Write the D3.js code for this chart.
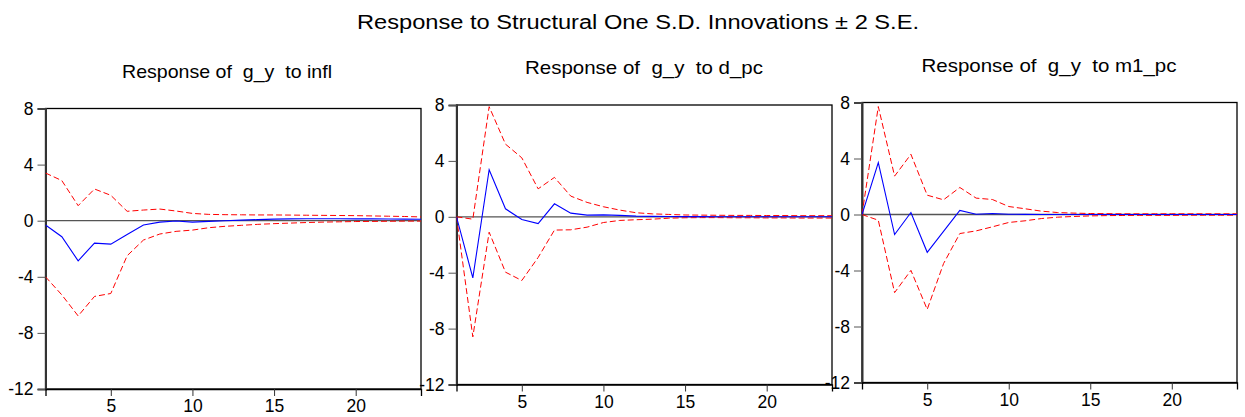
<!DOCTYPE html>
<html>
<head>
<meta charset="utf-8">
<script src="https://cdn.jsdelivr.net/npm/d3@7"></script>
<style>
  html, body { margin: 0; padding: 0; background: #fff; }
  svg { display: block; }
  text { font-family: "Liberation Sans", Arial, sans-serif; fill: #000; }
</style>
</head>
<body>
<svg id="chart" width="1245" height="417"></svg>
<script>
// ---- data ----
const periods = [1,2,3,4,5,6,7,8,9,10,11,12,13,14,15,16,17,18,19,20,21,22,23,24];
const yTicks = [-12, -8, -4, 0, 4, 8];
const xTicks = [5, 10, 15, 20];
const mainTitle = "Response to Structural One S.D. Innovations \u00B1 2 S.E.";
const panelTitles = ["Response of  g_y  to infl", "Response of  g_y  to d_pc", "Response of  g_y  to m1_pc"];

const inflResp  = [-0.31,-1.14,-2.86,-1.6,-1.67,-0.98,-0.31,-0.1,-0.02,-0.1,-0.05,0,0.04,0.08,0.11,0.13,0.14,0.14,0.14,0.13,0.13,0.12,0.11,0.1];
const inflUpper = [3.4,2.86,1.07,2.26,1.81,0.67,0.76,0.83,0.69,0.52,0.45,0.43,0.42,0.41,0.41,0.4,0.39,0.38,0.37,0.36,0.34,0.32,0.3,0.27];
const inflLower = [-4.0,-5.29,-6.79,-5.4,-5.19,-2.5,-1.38,-0.95,-0.76,-0.67,-0.5,-0.4,-0.33,-0.26,-0.21,-0.17,-0.13,-0.1,-0.08,-0.06,-0.05,-0.04,-0.03,-0.03];

const dpcResp  = [0,-4.37,3.37,0.57,-0.19,-0.48,0.93,0.26,0.12,0.14,0.1,0.05,0.03,0.02,0.01,0.01,0,0,0,0,0,0,0,0];
const dpcUpper = [0,-0.17,7.88,5.2,4.22,2.0,2.82,1.48,1.03,0.72,0.48,0.29,0.21,0.17,0.13,0.12,0.11,0.1,0.1,0.09,0.09,0.08,0.08,0.08];
const dpcLower = [0,-8.59,-1.1,-3.96,-4.56,-2.91,-0.95,-0.93,-0.74,-0.41,-0.26,-0.21,-0.17,-0.1,-0.07,-0.06,-0.06,-0.07,-0.07,-0.08,-0.08,-0.09,-0.09,-0.09];

const m1Resp  = [0,3.7,-1.43,0.14,-2.7,-1.2,0.29,0.02,0.07,0.02,0.01,0,0,0,0,0,0,0,0,0,0,0,0,0];
const m1Upper = [0,7.71,2.74,4.3,1.38,1.05,1.93,1.17,1.07,0.57,0.41,0.24,0.14,0.1,0.07,0.06,0.05,0.05,0.05,0.05,0.05,0.05,0.05,0.05];
const m1Lower = [0,-0.41,-5.58,-3.99,-6.78,-3.51,-1.36,-1.17,-0.88,-0.57,-0.45,-0.29,-0.19,-0.14,-0.1,-0.08,-0.07,-0.06,-0.06,-0.06,-0.05,-0.05,-0.05,-0.05];

// ---- layout ----
const panels = [
  { title: panelTitles[0], resp: inflResp, upper: inflUpper, lower: inflLower,
    left: 45.5, right: 421, top: 108.5, bottom: 389, titleX: 227, titleY: 78, titleW: 210 },
  { title: panelTitles[1], resp: dpcResp, upper: dpcUpper, lower: dpcLower,
    left: 456.5, right: 832, top: 105, bottom: 384.5, titleX: 644, titleY: 74, titleW: 238 },
  { title: panelTitles[2], resp: m1Resp, upper: m1Upper, lower: m1Lower,
    left: 862, right: 1237, top: 102.5, bottom: 382.5, titleX: 1049, titleY: 72, titleW: 255 }
];

const svg = d3.select("#chart");

svg.append("text")
  .attr("x", 638).attr("y", 28.5)
  .attr("text-anchor", "middle")
  .attr("font-size", 19.5)
  .attr("textLength", 562).attr("lengthAdjust", "spacingAndGlyphs")
  .text(mainTitle);

const fmt = d => String(d); // plain hyphen-minus as in the reference

panels.forEach((p, i) => {
  const x = d3.scaleLinear().domain([1, 24]).range([p.left, p.right]);
  const y = d3.scaleLinear().domain([-12, 8]).range([p.bottom, p.top]);
  const g = svg.append("g");

  g.append("text")
    .attr("x", p.titleX).attr("y", p.titleY)
    .attr("text-anchor", "middle")
    .attr("font-size", 19)
    .attr("xml:space", "preserve")
    .style("white-space", "pre")
    .attr("textLength", p.titleW).attr("lengthAdjust", "spacingAndGlyphs")
    .text(p.title);

  const clipId = "clip" + i;
  svg.append("clipPath").attr("id", clipId)
    .append("rect").attr("x", p.left).attr("y", p.top)
    .attr("width", p.right - p.left).attr("height", p.bottom - p.top);

  // frame
  g.append("rect")
    .attr("x", p.left).attr("y", p.top)
    .attr("width", p.right - p.left).attr("height", p.bottom - p.top)
    .attr("fill", "#fff").attr("stroke", "#000").attr("stroke-width", 1.3);

  // zero line
  g.append("line")
    .attr("x1", p.left).attr("x2", p.right)
    .attr("y1", y(0)).attr("y2", y(0))
    .attr("stroke", "#555").attr("stroke-width", 1.3);

  // axes
  const yAxis = d3.axisLeft(y).tickValues(yTicks).tickSize(8).tickPadding(4).tickFormat(fmt);
  const ya = g.append("g").attr("transform", `translate(${p.left},0)`).call(yAxis);
  ya.select(".domain").attr("stroke", "#333").attr("stroke-width", 2);
  ya.selectAll(".tick line").attr("stroke", "#555");
  ya.selectAll(".tick text").attr("font-size", 17.5).attr("font-family", "Liberation Sans, Arial, sans-serif").attr("fill", "#000");

  const xAxis = d3.axisBottom(x).tickValues(xTicks).tickSize(7).tickPadding(4).tickFormat(fmt);
  const xa = g.append("g").attr("transform", `translate(0,${p.bottom})`).call(xAxis);
  xa.select(".domain").attr("stroke", "#000").attr("stroke-width", 1.3);
  xa.selectAll(".tick line").attr("stroke", "#333");
  xa.selectAll(".tick text").attr("font-size", 17.5).attr("font-family", "Liberation Sans, Arial, sans-serif").attr("fill", "#000");

  const line = d3.line().x((d, j) => x(periods[j])).y(d => y(d));
  const lines = g.append("g").attr("clip-path", `url(#${clipId})`);

  lines.append("path").datum(p.upper).attr("d", line)
    .attr("fill", "none").attr("stroke", "#ff0000").attr("stroke-width", 1).attr("stroke-dasharray", "6,3");
  lines.append("path").datum(p.lower).attr("d", line)
    .attr("fill", "none").attr("stroke", "#ff0000").attr("stroke-width", 1).attr("stroke-dasharray", "6,3");
  lines.append("path").datum(p.resp).attr("d", line)
    .attr("fill", "none").attr("stroke", "#0000ff").attr("stroke-width", 1.1);
});
</script>
</body>
</html>
